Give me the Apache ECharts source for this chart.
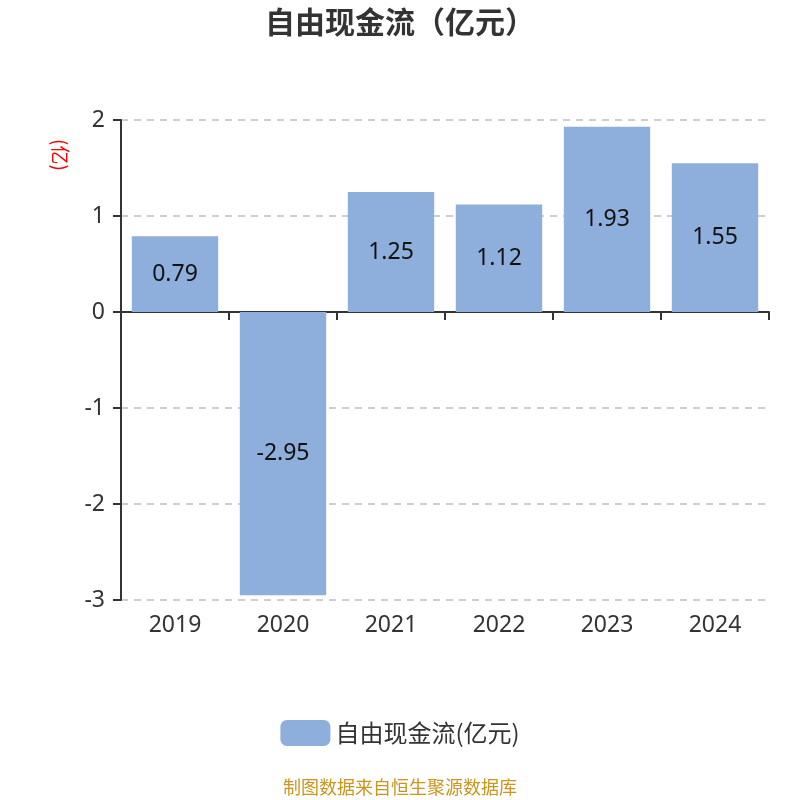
<!DOCTYPE html>
<html>
<head>
<meta charset="utf-8">
<script src="https://cdn.jsdelivr.net/npm/echarts@6/dist/echarts.min.js"></script>
<style>
  html, body { margin: 0; padding: 0; background: #fff; }
  #main { width: 800px; height: 800px; }
</style>
</head>
<body>
<div id="main"></div>
<script>
var years = ['2019', '2020', '2021', '2022', '2023', '2024'];
var freeCashFlow = [0.79, -2.95, 1.25, 1.12, 1.93, 1.55];
var seriesName = '自由现金流(亿元)';

var myChart = echarts.init(document.getElementById('main'));

var option = {
    backgroundColor: '#fff',
    textStyle: { fontFamily: '"Noto Sans", "Noto Sans CJK SC", sans-serif' },
    title: {
        text: '自由现金流（亿元）',
        left: 'center',
        top: 2,
        textStyle: { fontSize: 30, fontWeight: 'bold', color: '#333', fontFamily: '"Noto Sans CJK SC"' }
    },
    legend: {
        bottom: 49,
        left: 'center',
        itemWidth: 50,
        itemHeight: 26,
        itemGap: 10,
        icon: 'roundRect',
        textStyle: { fontSize: 24, color: '#333', fontFamily: '"Noto Sans CJK SC"' },
        data: [seriesName]
    },
    grid: { left: 121, right: 31, top: 120, bottom: 200 },
    graphic: [
        {
            type: 'text',
            left: 51,
            top: 139,
            rotation: -Math.PI / 2,
            style: { text: '(亿)', fill: '#ff0000', font: '19px "Noto Sans CJK SC"' }
        },
        {
            type: 'text',
            left: 'center',
            bottom: 4,
            style: { text: '制图数据来自恒生聚源数据库', fill: '#c8961e', font: '18px "Noto Sans CJK SC"' }
        }
    ],
    xAxis: {
        type: 'category',
        data: years,
        axisLine: { onZero: true, lineStyle: { color: '#333', width: 2 } },
        axisTick: { show: true, length: 8, lineStyle: { color: '#333', width: 2 } },
        axisLabel: { fontSize: 23, color: '#333', margin: 14 }
    },
    yAxis: {
        type: 'value',
        min: -3,
        max: 2,
        interval: 1,
        axisLine: { show: true, lineStyle: { color: '#333', width: 2 } },
        axisTick: { show: true, length: 8, lineStyle: { color: '#333', width: 2 } },
        axisLabel: { fontSize: 23, color: '#333', margin: 16 },
        splitLine: { lineStyle: { type: [7, 6], color: '#c0c0c0', width: 1.5 } }
    },
    series: [
        {
            name: seriesName,
            type: 'bar',
            barWidth: '80%',
            data: freeCashFlow,
            itemStyle: { color: '#8eaedb' },
            label: {
                show: true,
                position: 'inside',
                fontSize: 23,
                color: '#111'
            }
        }
    ]
};

myChart.setOption(option);
</script>
</body>
</html>
